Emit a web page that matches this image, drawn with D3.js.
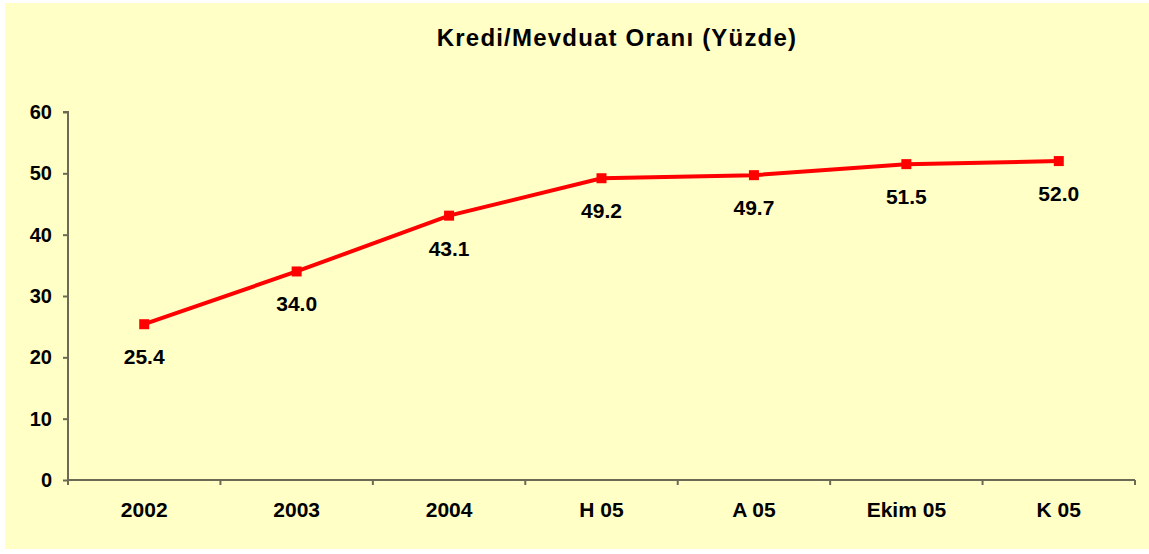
<!DOCTYPE html>
<html>
<head>
<meta charset="utf-8">
<script src="https://cdn.jsdelivr.net/npm/d3@7"></script>
<style>
  body { margin: 0; background: #fff; }
  svg text { font-family: "Liberation Sans", Arial, sans-serif; font-weight: bold; fill: #000; }
  .axis path, .axis line { stroke: #6b6b55; stroke-width: 2; }
</style>
</head>
<body>
<div class="chart"></div>
<script>
const categories = ["2002", "2003", "2004", "H 05", "A 05", "Ekim 05", "K 05"];
const ratios = [25.4, 34.0, 43.1, 49.2, 49.7, 51.5, 52.0];
const yTicks = [0, 10, 20, 30, 40, 50, 60];
const title = "Kredi/Mevduat Oranı (Yüzde)";

const data = categories.map((c, i) => ({ cat: c, value: ratios[i] }));

const W = 1149, H = 554;
const margin = ({top: 112, right: 14, bottom: 74, left: 68});
const width = W - margin.left - margin.right,
    height = H - margin.top - margin.bottom;

const root = d3.select(".chart")
    .append("svg")
    .attr("width", W)
    .attr("height", H);

// yellow panel
root.append("rect")
    .attr("x", 5).attr("y", 3)
    .attr("width", W - 5).attr("height", 546)
    .attr("fill", "#ffffc6");

root.append("text")
    .attr("x", 617)
    .attr("y", 46)
    .attr("text-anchor", "middle")
    .style("font-size", "24px")
    .style("letter-spacing", "1.2px")
    .text(title);

const svg = root.append("g")
    .attr("transform", "translate(" + margin.left + "," + margin.top + ")");

// scales
const xScale = d3.scaleBand()
    .domain(categories)
    .range([0, width]);

const yScale = d3.scaleLinear()
    .domain([0, 60])
    .range([height, 0]);

// axes
const xAxis = d3.axisBottom(xScale)
    .tickSize(0)
    .tickPadding(22);

const yAxis = d3.axisLeft(yScale)
    .tickValues(yTicks)
    .tickSize(5)
    .tickPadding(11)
    .tickFormat(d3.format("d"));

const xAxisGroup = svg.append("g")
    .attr("class", "axis x-axis")
    .attr("transform", "translate(0," + height + ")")
    .call(xAxis);
xAxisGroup.select(".domain").attr("d", "M0,0H" + width);
xAxisGroup.selectAll("text").style("font-size", "21px");

// boundary ticks between categories
xAxisGroup.selectAll(".cat-tick")
    .data(d3.range(categories.length + 1))
    .join("line")
    .attr("class", "cat-tick")
    .attr("x1", i => i * xScale.step())
    .attr("x2", i => i * xScale.step())
    .attr("y1", 0)
    .attr("y2", 5)
    .attr("stroke", "#6b6b55")
    .attr("stroke-width", 2);

const yAxisGroup = svg.append("g")
    .attr("class", "axis y-axis")
    .call(yAxis);
yAxisGroup.select(".domain").attr("d", "M-5,0H0V" + height);
yAxisGroup.selectAll("text").style("font-size", "20px");

// line
const line = d3.line()
    .x(d => xScale(d.cat) + xScale.bandwidth() / 2)
    .y(d => yScale(d.value));

svg.append("path")
    .datum(data)
    .attr("fill", "none")
    .attr("stroke", "#ff0000")
    .attr("stroke-width", 4)
    .attr("d", line);

// markers
svg.selectAll(".marker")
    .data(data)
    .join("rect")
    .attr("class", "marker")
    .attr("x", d => xScale(d.cat) + xScale.bandwidth() / 2 - 5)
    .attr("y", d => yScale(d.value) - 5)
    .attr("width", 10)
    .attr("height", 10)
    .attr("fill", "#ff0000");

// value labels
svg.selectAll(".vlabel")
    .data(data)
    .join("text")
    .attr("class", "vlabel")
    .attr("x", d => xScale(d.cat) + xScale.bandwidth() / 2)
    .attr("y", d => yScale(d.value) + 40)
    .attr("text-anchor", "middle")
    .style("font-size", "21px")
    .text(d => d.value.toFixed(1));
</script>
</body>
</html>
